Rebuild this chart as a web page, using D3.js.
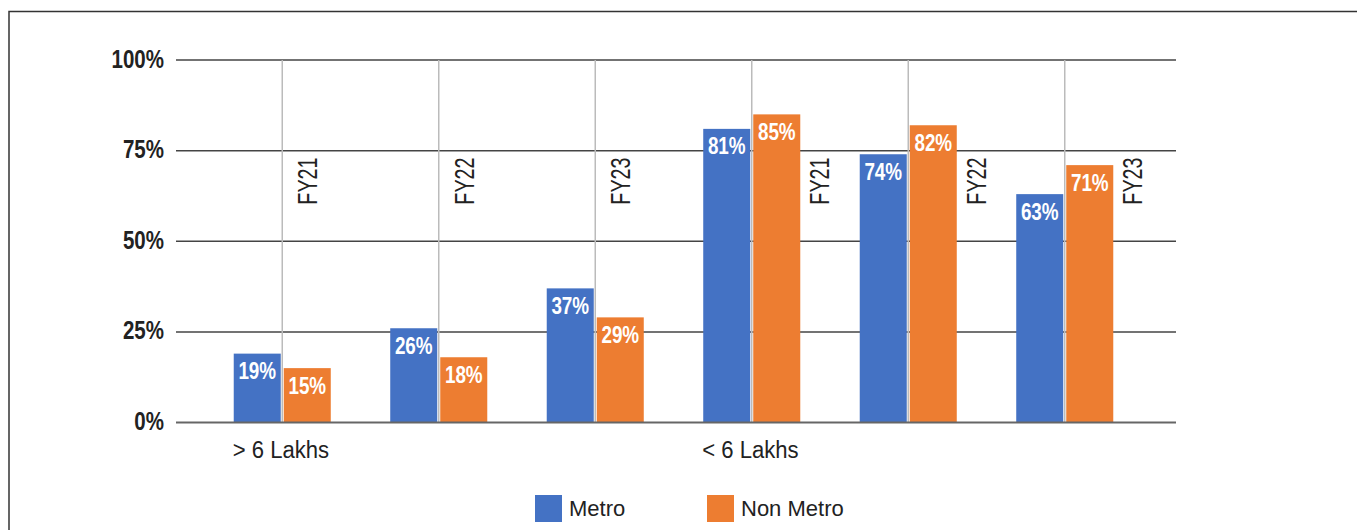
<!DOCTYPE html>
<html>
<head>
<meta charset="utf-8">
<script src="https://cdn.jsdelivr.net/npm/d3@7"></script>
<style>
  html, body { margin: 0; padding: 0; background: #fff; }
  svg { display: block; font-family: "Liberation Sans", Arial, sans-serif; }
</style>
</head>
<body>
<svg id="chart" width="1357" height="530"></svg>
<script>
// ---- data ----
const groups = ["> 6 Lakhs", "< 6 Lakhs"];
const years = ["FY21", "FY22", "FY23", "FY21", "FY22", "FY23"];
const groupOf = [0, 0, 0, 1, 1, 1];
const seriesNames = ["Metro", "Non Metro"];
const metro = [19, 26, 37, 81, 74, 63];
const nonMetro = [15, 18, 29, 85, 82, 71];
const yTicks = [0, 25, 50, 75, 100];
const colors = ["#4472C4", "#ED7D31"];

// ---- layout ----
const svg = d3.select("#chart");
const plotLeft = 176, plotRight = 1176;
const y = d3.scaleLinear().domain([0, 100]).range([422.5, 60]);
const x = d3.scaleBand().domain(d3.range(years.length)).range([204, 1143])
  .paddingInner(0.38).paddingOuter(0.19);
const xs = d3.scaleBand().domain([0, 1]).range([0, x.bandwidth()]).paddingInner(0.06).paddingOuter(0);

// border (top + left only visible)
svg.append("rect").attr("x", 9).attr("y", 11.5).attr("width", 1400).attr("height", 600)
  .attr("fill", "none").attr("stroke", "#333").attr("stroke-width", 1.5);

// horizontal gridlines
svg.append("g").selectAll("line").data(yTicks.filter(d => d > 0)).join("line")
  .attr("x1", plotLeft).attr("x2", plotRight)
  .attr("y1", d => y(d)).attr("y2", d => y(d))
  .attr("stroke", "#444").attr("stroke-width", 1.5);

// vertical gridlines at category centers
svg.append("g").selectAll("line").data(d3.range(years.length)).join("line")
  .attr("x1", i => x(i) + x.bandwidth() / 2).attr("x2", i => x(i) + x.bandwidth() / 2)
  .attr("y1", y(100)).attr("y2", y(0))
  .attr("stroke", "#bbb").attr("stroke-width", 1.5);

// y tick labels
svg.append("g").selectAll("text").data(yTicks).join("text")
  .attr("transform", d => `translate(164,${y(d) + 7.5}) scale(0.82,1)`)
  .attr("text-anchor", "end").attr("font-weight", "bold").attr("font-size", 25)
  .attr("fill", "#222").text(d => d + "%");

// bars
const rows = [];
years.forEach((yr, i) => {
  [metro[i], nonMetro[i]].forEach((v, s) => rows.push({ i, s, v }));
});
svg.append("g").selectAll("rect").data(rows).join("rect")
  .attr("x", d => x(d.i) + xs(d.s)).attr("width", xs.bandwidth())
  .attr("y", d => y(d.v)).attr("height", d => y(0) - y(d.v))
  .attr("fill", d => colors[d.s]);

// bar value labels
svg.append("g").selectAll("text").data(rows).join("text")
  .attr("transform", d => `translate(${x(d.i) + xs(d.s) + xs.bandwidth() / 2},${y(d.v) + 25.5}) scale(0.82,1)`)
  .attr("text-anchor", "middle").attr("font-weight", "bold").attr("font-size", 23)
  .attr("fill", "#fff").text(d => d.v + "%");

// baseline
svg.append("line").attr("x1", plotLeft).attr("x2", plotRight)
  .attr("y1", y(0)).attr("y2", y(0)).attr("stroke", "#666").attr("stroke-width", 2);

// rotated year labels
const fyBottom = y(75) + 54;
svg.append("g").selectAll("text").data(years).join("text")
  .attr("transform", (d, i) => {
    const orangeX = x(i) + xs(1);
    const overlaps = y(nonMetro[i]) < fyBottom;
    const cx = overlaps ? orangeX + xs.bandwidth() + 19 : orangeX + xs.bandwidth() / 2;
    return `translate(${cx + 10},${fyBottom}) rotate(-90)`;
  })
  .attr("text-anchor", "start").attr("font-size", 28)
  .attr("textLength", 47).attr("lengthAdjust", "spacingAndGlyphs")
  .attr("fill", "#222").text(d => d);

// group labels (start at the first bar of each group)
svg.append("g").selectAll("text").data(groups).join("text")
  .attr("transform", (d, g) => {
    const first = groupOf.indexOf(g);
    return `translate(${x(first) + xs(0) - 1},458) scale(0.96,1)`;
  })
  .attr("font-size", 23).attr("fill", "#222").text(d => d);

// legend
const legendX = [535, 707];
const lg = svg.append("g").selectAll("g").data(seriesNames).join("g")
  .attr("transform", (d, i) => `translate(${legendX[i]},495)`);
lg.append("rect").attr("width", 27).attr("height", 27).attr("fill", (d, i) => colors[i]);
lg.append("text").attr("x", 34).attr("y", 20.5).attr("font-size", 22)
  .attr("fill", "#222").text(d => d);
</script>
</body>
</html>
